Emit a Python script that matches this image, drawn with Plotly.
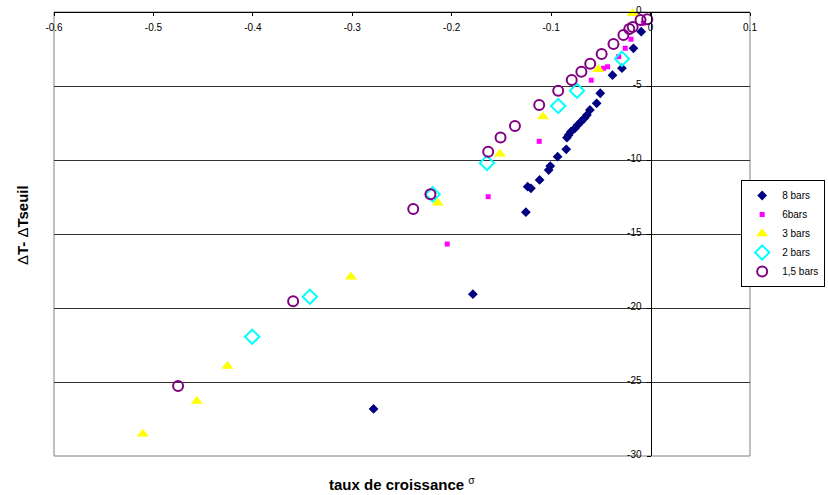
import plotly.graph_objects as go

# ---- data (sigma = taux de croissance, dT = ΔT - ΔTseuil) ----
bars8_sigma = [-0.0094, -0.0172, -0.0288, -0.0383, -0.0506, -0.0542, -0.061, -0.064, -0.0667,
               -0.070, -0.0733, -0.0761, -0.0801, -0.0824, -0.0841, -0.0848, -0.0935, -0.1009,
               -0.1025, -0.1116, -0.1203, -0.1236, -0.1254, -0.1787, -0.2786]
bars8_dT = [-1.33, -2.45, -3.80, -4.27, -5.49, -6.17, -6.62, -6.96, -7.18,
            -7.41, -7.64, -7.86, -8.09, -8.31, -8.49, -9.28, -9.78, -10.41,
            -10.68, -11.35, -11.91, -11.80, -13.53, -19.07, -26.82]

bars6_sigma = [-0.0073, -0.0197, -0.0255, -0.0321, -0.0432, -0.0472, -0.0597, -0.112, -0.1633, -0.2045]
bars6_dT = [-0.76, -1.84, -2.45, -3.02, -3.70, -3.80, -4.61, -8.74, -12.48, -15.68]

bars3_sigma = [-0.018, -0.0526, -0.1082, -0.1515, -0.2142, -0.3014, -0.4255, -0.4563, -0.5107]
bars3_dT = [-0.1, -3.87, -7.07, -9.59, -12.89, -17.89, -23.92, -26.30, -28.51]

bars2_sigma = [-0.0288, -0.074, -0.0929, -0.1646, -0.2192, -0.3427, -0.4007]
bars2_dT = [-3.16, -5.32, -6.35, -10.20, -12.32, -19.24, -21.94]

bars15_sigma = [-0.0033, -0.0101, -0.018, -0.0214, -0.0273, -0.0373, -0.0492, -0.0607, -0.0696,
                -0.0793, -0.0929, -0.112, -0.1364, -0.1509, -0.1633, -0.2214, -0.2387, -0.3595, -0.4752]
bars15_dT = [-0.49, -0.54, -1.01, -1.15, -1.55, -2.16, -2.84, -3.49, -4.03,
             -4.59, -5.32, -6.28, -7.70, -8.48, -9.44, -12.32, -13.31, -19.55, -25.27]

x_ticks = [-0.6, -0.5, -0.4, -0.3, -0.2, -0.1, 0, 0.1]
x_ticktext = ["-0.6", "-0.5", "-0.4", "-0.3", "-0.2", "-0.1", "0", "0.1"]
y_ticks = [0, -5, -10, -15, -20, -25, -30]
y_ticktext = ["0", "-5", "-10", "-15", "-20", "-25", "-30"]

FONT = "Liberation Sans, Arial, sans-serif"

fig = go.Figure()
fig.add_trace(go.Scatter(x=bars8_sigma, y=bars8_dT, mode="markers", name="8 bars", cliponaxis=False,
                         marker=dict(symbol="diamond", size=7.5, color="#000080")))
fig.add_trace(go.Scatter(x=bars6_sigma, y=bars6_dT, mode="markers", name="6bars", cliponaxis=False,
                         marker=dict(symbol="square", size=5, color="#FF00FF")))
fig.add_trace(go.Scatter(x=bars3_sigma, y=bars3_dT, mode="markers", name="3 bars", cliponaxis=False,
                         marker=dict(symbol="triangle-up", size=10.5, color="#FFFF00")))
fig.add_trace(go.Scatter(x=bars2_sigma, y=bars2_dT, mode="markers", name="2 bars", cliponaxis=False,
                         marker=dict(symbol="diamond-open", size=11, color="#00FFFF",
                                     line=dict(width=2, color="#00FFFF"))))
fig.add_trace(go.Scatter(x=bars15_sigma, y=bars15_dT, mode="markers", name="1,5 bars", cliponaxis=False,
                         marker=dict(symbol="circle-open", size=10, color="#800080",
                                     line=dict(width=2, color="#800080"))))

# small top margin (keeps the legend's auto-margin pad small); the plot top is set via the y domain
YDOM_TOP = 444 / 454

fig.update_layout(
    width=828, height=495, autosize=False,
    margin=dict(l=54, r=78, t=2, b=39),
    paper_bgcolor="white", plot_bgcolor="white",
    font=dict(family=FONT, size=10, color="black"),
    showlegend=True, hovermode=False,
    legend=dict(x=1.108, xanchor="right", y=(456 - 233.5) / 454, yanchor="middle",
                bordercolor="black", borderwidth=1, bgcolor="white",
                font=dict(family=FONT, size=10, color="black"),
                itemwidth=30, tracegroupgap=0),
    xaxis=dict(range=[-0.6, 0.1], anchor="free", position=YDOM_TOP, side="bottom",
               tickvals=x_ticks, ticktext=x_ticktext,
               ticks="outside", ticklen=3, tickcolor="black", ticklabelstandoff=3,
               showgrid=False, zeroline=False, automargin=False,
               showline=True, linecolor="black", linewidth=1,
               tickfont=dict(family=FONT, size=10, color="black")),
    yaxis=dict(range=[-30, 0], domain=[0, YDOM_TOP], anchor="free", position=0.6 / 0.7, side="left",
               tickvals=y_ticks, ticktext=y_ticktext, ticks="outside", ticklen=4, tickcolor="black",
               ticklabelshift=-2, ticklabelstandoff=3,
               showgrid=True, gridcolor="#333333", gridwidth=1, zeroline=False, automargin=False,
               showline=True, linecolor="black", linewidth=1,
               tickfont=dict(family=FONT, size=10, color="black")),
    shapes=[dict(type="rect", xref="x domain", yref="y domain", x0=0, x1=1, y0=0, y1=1,
                 line=dict(color="#808080", width=1), layer="below")],
    annotations=[
        dict(text="<b>taux de croissance </b><sup>σ</sup>", xref="x domain", yref="y domain",
             x=0.5, y=-0.062, xanchor="center", yanchor="middle", showarrow=False,
             font=dict(family=FONT, size=15, color="black")),
        dict(text="Δ<b>T- </b>Δ<b>Tseuil</b>", xref="x domain", yref="y domain",
             x=-0.046, y=0.52, xanchor="center", yanchor="middle", textangle=-90, showarrow=False,
             font=dict(family=FONT, size=15, color="black")),
    ],
)

# remove the browser's default 8px page margin so the 828x495 figure fills the window exactly
fig.write_html("out.html", config={"displayModeBar": False},
               post_script="document.body.style.margin='0';document.body.style.overflow='hidden';")
